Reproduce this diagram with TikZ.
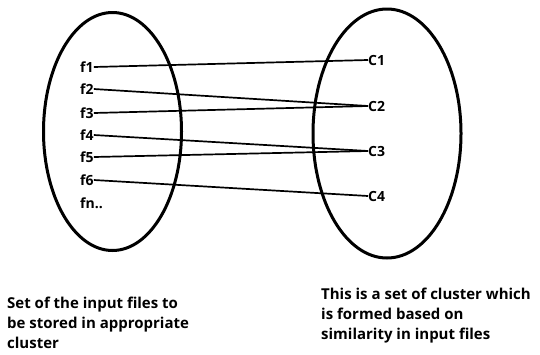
\documentclass[tikz,border=0pt]{standalone}
\usepackage{fontspec}
\setmainfont{Open Sans}
\begin{document}
\begin{tikzpicture}[x=1pt,y=-1pt,
  lbl/.style={font=\bfseries\fontsize{14}{16}\selectfont, inner sep=0pt, anchor=west},
  note/.style={font=\bfseries\fontsize{15}{20}\selectfont, inner sep=0pt, anchor=base west, align=left},
  set/.style={line width=3pt},
  link/.style={line width=1.7pt}]
\useasboundingbox (0,0) rectangle (540,354);
% the two sets
\draw[set] (112.5,131.5) ellipse [x radius=69, y radius=119];
\draw[set] (387,133.5) ellipse [x radius=74, y radius=124.5];
% input files
\node[lbl] (f1) at (80,67) {f1};
\node[lbl] (f2) at (80,89) {f2};
\node[lbl] (f3) at (80,113) {f3};
\node[lbl] (f4) at (80,135) {f4};
\node[lbl] (f5) at (80,157) {f5};
\node[lbl] (f6) at (80,180) {f6};
\node[lbl] (fn) at (80,203) {fn..};
% clusters
\node[lbl] (c1) at (368,60) {C1};
\node[lbl] (c2) at (368,106) {C2};
\node[lbl] (c3) at (368,151) {C3};
\node[lbl] (c4) at (368,196) {C4};
% assignments of files to clusters
\draw[link] (f1.east) -- (c1.west);
\draw[link] (f2.east) -- (c2.west);
\draw[link] (f3.east) -- (c2.west);
\draw[link] (f4.east) -- (c3.west);
\draw[link] (f5.east) -- (c3.west);
\draw[link] (f6.east) -- (c4.west);
% captions (anchored at the baseline of their last line)
\node[note] (capl) at (7,348) {Set of the input files to\\be stored in appropriate\\cluster};
\node[note] (capr) at (321,339) {This is a set of cluster which\\is formed based on\\similarity in input files};
\end{tikzpicture}
\end{document}
